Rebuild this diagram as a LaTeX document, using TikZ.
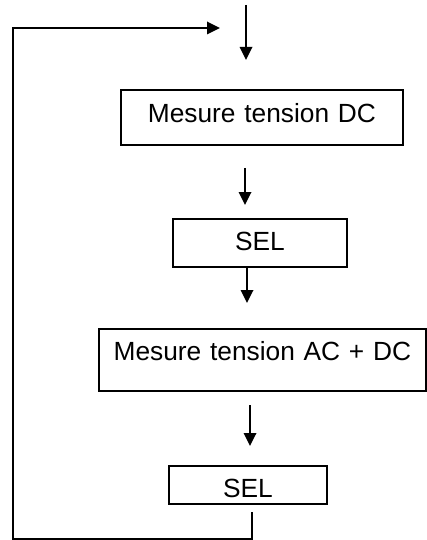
\documentclass[tikz,border=0pt]{standalone}
\usepackage{fontspec}
\setmainfont{Liberation Sans}
\usetikzlibrary{arrows.meta}

\begin{document}
\begin{tikzpicture}[x=1pt,y=-1pt,
  line width=1.8pt,
  stepbox/.style={draw, rectangle, inner sep=0pt, anchor=north west,
    align=center, font=\fontsize{26.3}{30}\selectfont},
  flow/.style={-{Triangle[length=13pt,width=12.5pt]}}]
  \useasboundingbox (0,0) rectangle (427,540);

  % process boxes (text sits in the upper part of each box)
  \node[stepbox, text width=282pt, text height=32.4pt, text depth=22.6pt]
    (dc) at (120,89) {Mesure tension DC};
  \node[stepbox, text width=174pt, text height=31.4pt, text depth=16.6pt]
    (sel1) at (172,218) {SEL};
  \node[stepbox, text width=327pt, text height=31.4pt, text depth=30.6pt]
    (acdc) at (98,328) {Mesure tension AC + DC};
  \node[stepbox, text width=158pt, text height=31.4pt, text depth=6.6pt]
    (sel2) at (168,465) {SEL};

  % free ends of the arrows
  \coordinate (in0) at (246,5);
  \coordinate (in1) at (246,60);
  \coordinate (a2s) at (245,168);
  \coordinate (a2e) at (245,205);
  \coordinate (a3e) at (247,303);
  \coordinate (a4s) at (250,405);
  \coordinate (a4e) at (250,446);
  \coordinate (ret0) at (252,512);
  \coordinate (retB) at (252,539);
  \coordinate (retL) at (13,539);
  \coordinate (retT) at (13,28);
  \coordinate (retE) at (220,28);

  % downward flow
  \draw[flow] (in0) -- (in1);
  \draw[flow] (a2s) -- (a2e);
  \draw[flow] (sel1.south -| a3e) -- (a3e);
  \draw[flow] (a4s) -- (a4e);

  % loop back to the start
  \draw[flow] (ret0) -- (retB) -- (retL) -- (retT) -- (retE);
\end{tikzpicture}
\end{document}
